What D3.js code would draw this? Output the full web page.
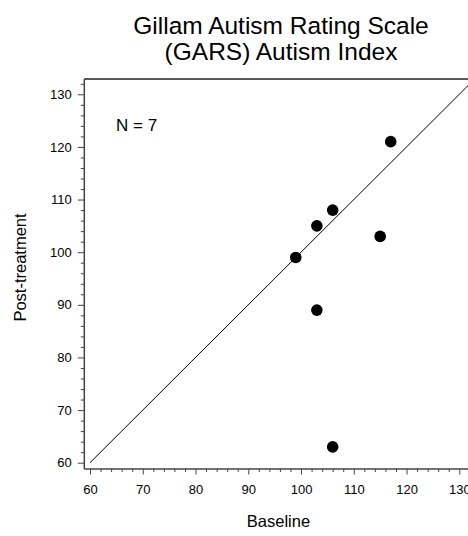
<!DOCTYPE html>
<html><head><meta charset="utf-8">
<script src="https://cdn.jsdelivr.net/npm/d3@7"></script>
<style>html,body{margin:0;padding:0;background:#fff;overflow:hidden}</style>
</head><body>
<script>
const baseline = [99, 103, 106, 117, 115, 103, 106];
const postTreatment = [99, 105, 108, 121, 103, 89, 63];
const majorTicks = [60, 70, 80, 90, 100, 110, 120, 130];
const identityLine = [60, 132];
const titleLines = ["Gillam Autism Rating Scale", "(GARS) Autism Index"];
const annotation = "N = 7";

(function () {
const W = 468, H = 536;
const svg = d3.select("body").append("svg").attr("width", W).attr("height", H);
const font = "Liberation Sans, Arial, sans-serif";

const x = d3.scaleLinear().domain([60, 130]).range([90, 459.3]);
const y = d3.scaleLinear().domain([60, 130]).range([462.7, 94.3]);
const plotLeft = 84.3, plotBottom = 469, plotTop = 79;
const minorTicks = d3.range(60, 133, 2).filter(v => v % 10 !== 0);

// frame top line
svg.append("line").attr("x1", plotLeft).attr("x2", W).attr("y1", plotTop).attr("y2", plotTop)
  .attr("stroke", "#222").attr("stroke-width", 1.5);

// Y axis
const gy = svg.append("g").attr("transform", `translate(${plotLeft},0)`);
gy.call(d3.axisLeft(y).tickValues(majorTicks).tickSize(6.5).tickPadding(6).tickFormat(d3.format("d")));
gy.append("g").call(d3.axisLeft(y).tickValues(minorTicks).tickSize(3.5).tickFormat(""));
gy.selectAll(".domain").remove();
gy.append("line").attr("x1", 0).attr("x2", 0).attr("y1", plotTop).attr("y2", plotBottom)
  .attr("stroke", "#444").attr("stroke-width", 1.5);

// X axis
const gx = svg.append("g").attr("transform", `translate(0,${plotBottom})`);
gx.call(d3.axisBottom(x).tickValues(majorTicks).tickSize(5.5).tickPadding(10).tickFormat(d3.format("d")));
gx.append("g").call(d3.axisBottom(x).tickValues(minorTicks).tickSize(3).tickFormat(""));
gx.selectAll(".domain").remove();
gx.append("line").attr("x1", plotLeft).attr("x2", W).attr("y1", 0).attr("y2", 0)
  .attr("stroke", "#444").attr("stroke-width", 1.5);

svg.selectAll(".tick line").attr("stroke", "#444").attr("stroke-width", 1);
svg.selectAll(".tick text").attr("font-family", font).attr("font-size", 13).attr("fill", "#000");

// identity line
svg.append("line")
  .attr("x1", x(identityLine[0])).attr("y1", y(identityLine[0]))
  .attr("x2", x(identityLine[1])).attr("y2", y(identityLine[1]))
  .attr("stroke", "#000").attr("stroke-width", 1);

// points
svg.append("g").selectAll("circle").data(baseline.map((b, i) => [b, postTreatment[i]]))
  .join("circle").attr("cx", d => x(d[0])).attr("cy", d => y(d[1])).attr("r", 5.8).attr("fill", "#000");

// annotation
svg.append("text").attr("x", 116).attr("y", 131).attr("font-family", font).attr("font-size", 17)
  .text(annotation);

// title
svg.append("text").attr("font-family", font).attr("font-size", 24.5).attr("text-anchor", "middle")
  .selectAll("tspan").data(titleLines).join("tspan")
  .attr("x", 281).attr("y", (d, i) => 34 + i * 25.5).text(d => d);

// axis labels
svg.append("text").attr("x", 278.5).attr("y", 527).attr("text-anchor", "middle")
  .attr("font-family", font).attr("font-size", 16.5).text("Baseline");
svg.append("text").attr("transform", "translate(26,267.5) rotate(-90)").attr("text-anchor", "middle")
  .attr("font-family", font).attr("font-size", 16.5).text("Post-treatment");
})();
</script>
</body></html>
